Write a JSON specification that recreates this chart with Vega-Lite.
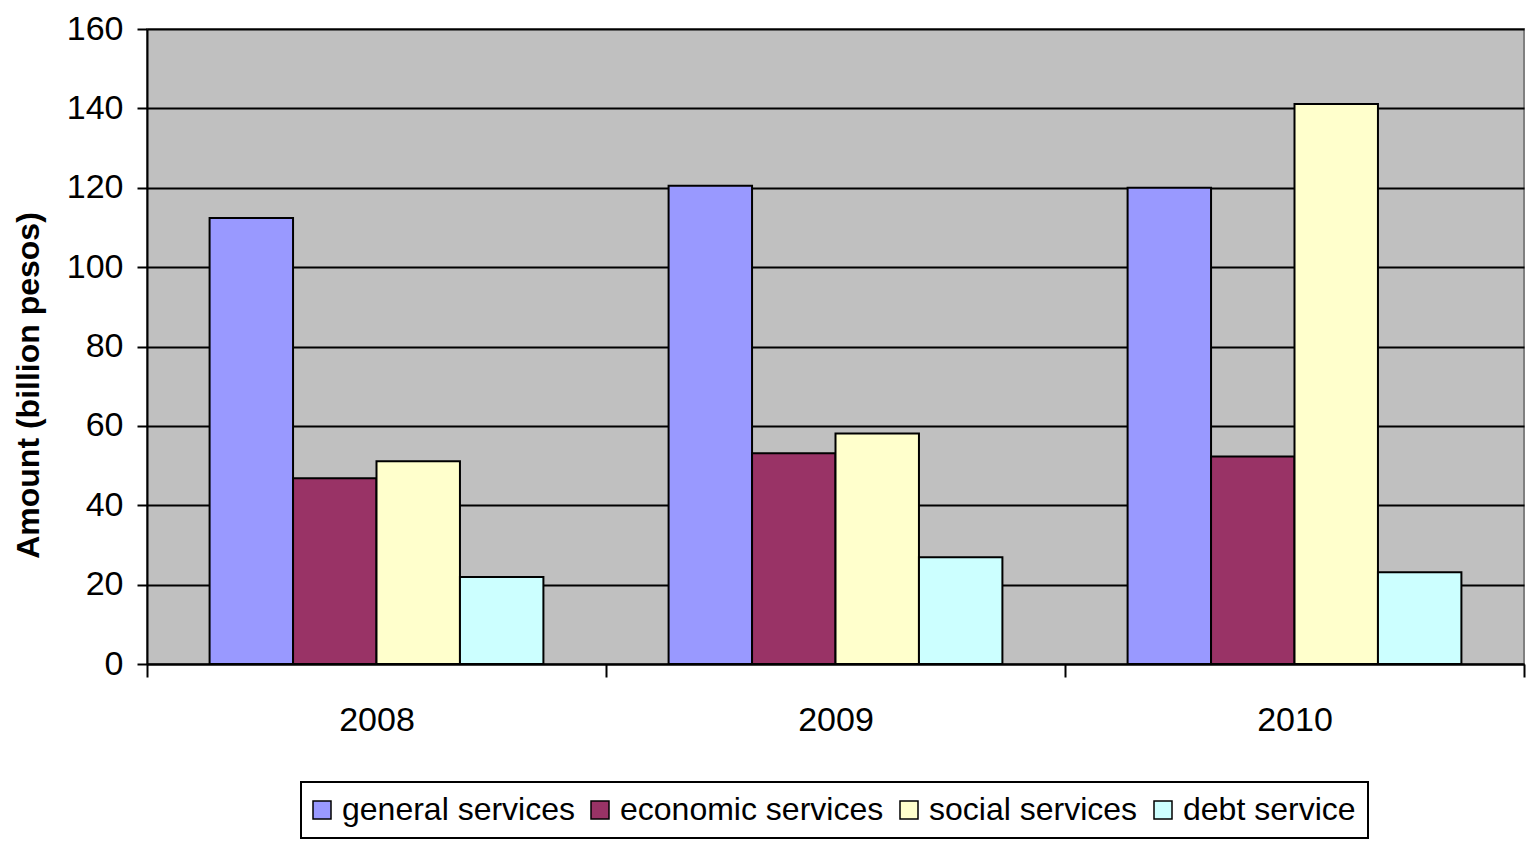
{
  "$schema": "https://vega.github.io/schema/vega-lite/v6.json",
  "autosize": {"type": "none"},
  "padding": {"left": 147, "top": 29, "right": 8, "bottom": 180},
  "width": 1377,
  "height": 635,
  "background": "white",
  "config": {
    "font": "Liberation Sans, Arial",
    "view": {"fill": "#C0C0C0", "stroke": "#808080", "strokeWidth": 2}
  },
  "data": {
    "values": [
      {"year": "2008", "category": "general services", "value": 112.4},
      {"year": "2008", "category": "economic services", "value": 46.8},
      {"year": "2008", "category": "social services", "value": 51.1},
      {"year": "2008", "category": "debt service", "value": 21.9},
      {"year": "2009", "category": "general services", "value": 120.5},
      {"year": "2009", "category": "economic services", "value": 53.1},
      {"year": "2009", "category": "social services", "value": 58.1},
      {"year": "2009", "category": "debt service", "value": 26.9},
      {"year": "2010", "category": "general services", "value": 120.0},
      {"year": "2010", "category": "economic services", "value": 52.3},
      {"year": "2010", "category": "social services", "value": 141.1},
      {"year": "2010", "category": "debt service", "value": 23.1}
    ]
  },
  "mark": {"type": "bar", "stroke": "black", "strokeWidth": 2},
  "encoding": {
    "x": {
      "field": "year",
      "type": "nominal",
      "scale": {"paddingInner": 0, "paddingOuter": 0},
      "axis": {
        "title": null,
        "labelAngle": 0,
        "labelFontSize": 34,
        "labelColor": "black",
        "labelPadding": 26,
        "tickBand": "extent",
        "tickSize": 13,
        "tickWidth": 2,
        "tickColor": "black",
        "domainColor": "black",
        "domainWidth": 2,
        "grid": false
      }
    },
    "xOffset": {
      "field": "category",
      "type": "nominal",
      "sort": ["general services", "economic services", "social services", "debt service"],
      "scale": {"paddingInner": 0, "paddingOuter": 0.75}
    },
    "y": {
      "field": "value",
      "type": "quantitative",
      "scale": {"domain": [0, 160], "nice": false},
      "axis": {
        "title": "Amount (billion pesos)",
        "titleFontSize": 32,
        "titleFontWeight": "bold",
        "titleColor": "black",
        "titleX": -119,
        "titleY": 356,
        "titleAngle": -90,
        "titleBaseline": "middle",
        "titleAlign": "center",
        "values": [0, 20, 40, 60, 80, 100, 120, 140, 160],
        "labelFontSize": 34,
        "labelColor": "black",
        "labelPadding": 14,
        "tickSize": 10,
        "tickWidth": 2,
        "tickColor": "black",
        "domainColor": "black",
        "domainWidth": 2,
        "gridColor": "black",
        "gridWidth": 2
      }
    },
    "color": {
      "field": "category",
      "type": "nominal",
      "scale": {
        "domain": ["general services", "economic services", "social services", "debt service"],
        "range": ["#9999FF", "#993366", "#FFFFCC", "#CCFFFF"]
      },
      "legend": {
        "title": null,
        "orient": "none",
        "legendX": 154,
        "legendY": 753,
        "direction": "horizontal",
        "columns": 4,
        "padding": 12,
        "strokeColor": "black",
        "fillColor": "white",
        "symbolType": "square",
        "symbolSize": 324,
        "symbolStrokeColor": "black",
        "symbolStrokeWidth": 1.5,
        "symbolOpacity": 1,
        "symbolOffset": -7,
        "labelFontSize": 32,
        "labelColor": "black",
        "labelOffset": 4,
        "labelLimit": 500,
        "columnPadding": 13,
        "encode": {"legend": {"update": {"strokeWidth": {"value": 2}}}}
      }
    }
  }
}
